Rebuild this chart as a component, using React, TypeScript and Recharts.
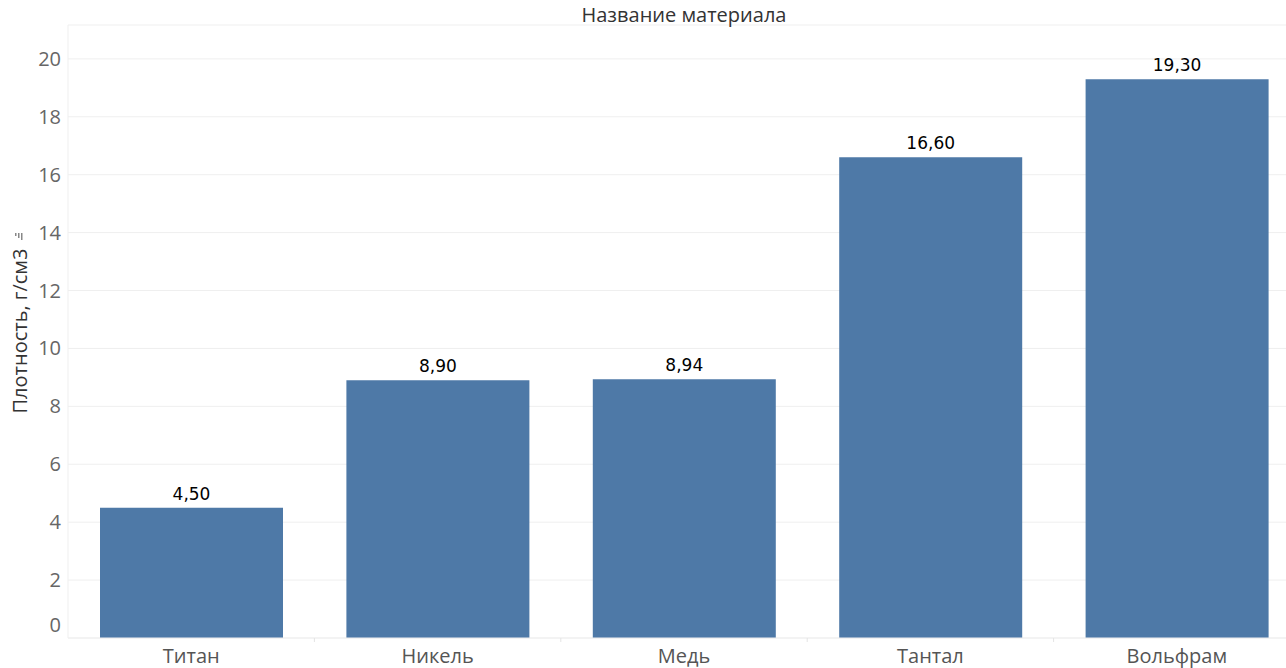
import { BarChart, Bar, XAxis, YAxis, CartesianGrid, LabelList } from "recharts"

const materials = ["Титан", "Никель", "Медь", "Тантал", "Вольфрам"]
const density = [4.5, 8.9, 8.94, 16.6, 19.3]
const yTicks = [0, 2, 4, 6, 8, 10, 12, 14, 16, 18, 20]

const data = materials.map((name, i) => ({ name, density: density[i] }))

const BLUE = "#4e79a7"
const GRID = "#efefef"
const FONT = "'Open Sans', 'Noto Sans', sans-serif"

function YTick({ x, y, payload }: any) {
  // tableau nudges the zero label up so it stays inside the pane
  const dy = payload.value === 0 ? -6 : 7
  return (
    <text x={x + 1} y={y + dy} textAnchor="end" fontSize={20} fill="#666" fontFamily={FONT}>
      {payload.value}
    </text>
  )
}

function XTick({ x, y, payload }: any) {
  const half = payload.offset || 0
  return (
    <g>
      <line x1={x + half} x2={x + half} y1={y - 8} y2={y - 4} stroke="#e4e4e4" />
      <text x={x} y={y + 17} textAnchor="middle" fontSize={20} fill="#555" fontFamily={FONT}>
        {payload.value}
      </text>
    </g>
  )
}

function YLabel() {
  return (
    <g>
      <text
        transform="translate(27,331) rotate(-90)"
        textAnchor="middle"
        fontSize={20}
        fill="#333"
        fontFamily={FONT}
      >
        Плотность, г/см3
      </text>
      <g fill="#888">
        <rect x={15} y={233} width={1.5} height={3} />
        <rect x={18} y={233} width={1.5} height={5} />
        <rect x={21} y={233} width={1.5} height={7} />
      </g>
    </g>
  )
}

const fmt = (v: any) => Number(v).toFixed(2).replace(".", ",")

export default function App() {
  return (
    <div
      style={{
        position: "fixed",
        left: 0,
        top: 0,
        width: 1286,
        height: 668,
        overflow: "hidden",
        background: "#fff",
      }}
    >
      <BarChart
        width={1300}
        height={668}
        data={data}
        margin={{ top: 25, right: 0, bottom: 0, left: 0 }}
        barSize={183}
      >
        <CartesianGrid vertical={false} stroke={GRID} />
        <XAxis
          dataKey="name"
          height={30}
          axisLine={{ stroke: GRID }}
          tickLine={false}
          tick={<XTick />}
          interval={0}
        />
        <YAxis
          width={68}
          domain={[0, 21.17]}
          ticks={yTicks}
          allowDataOverflow
          axisLine={{ stroke: GRID }}
          tickLine={false}
          tick={<YTick />}
          label={<YLabel />}
        />
        <Bar dataKey="density" fill={BLUE} isAnimationActive={false}>
          <LabelList
            dataKey="density"
            position="top"
            offset={8}
            formatter={fmt}
            fill="#000"
            fontSize={17}
            fontFamily="'DejaVu Sans', sans-serif"
          />
        </Bar>
      </BarChart>
      <svg width={1300} height={30} style={{ position: "absolute", left: 0, top: 0 }}>
        <text x={684} y={22} textAnchor="middle" fontSize={20} fill="#333" fontFamily={FONT}>
          Название материала
        </text>
      </svg>
    </div>
  )
}
